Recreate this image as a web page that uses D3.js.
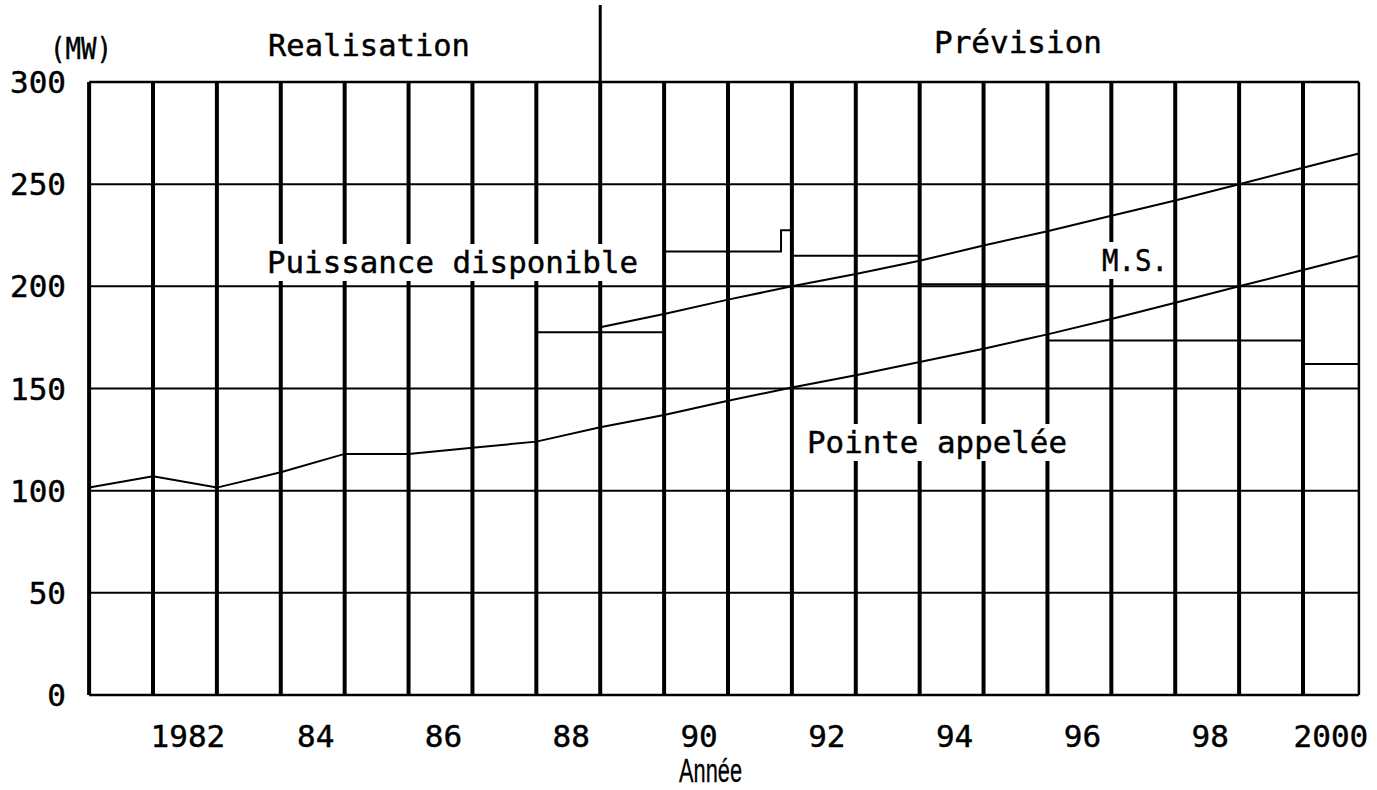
<!DOCTYPE html>
<html>
<head>
<meta charset="utf-8">
<script src="https://cdn.jsdelivr.net/npm/d3@7"></script>
<style>
  html, body { margin: 0; padding: 0; background: #fff; }
  svg { display: block; }
  text { font-family: "DejaVu Sans Mono", "Liberation Mono", monospace; fill: #000; stroke: #000; stroke-width: 0.45px; }
</style>
</head>
<body>
<svg id="chart" width="1377" height="790"></svg>
<script>
// ---------- data ----------
const yTicks = [0, 50, 100, 150, 200, 250, 300];
const yearLines = [1982, 1983, 1984, 1985, 1986, 1987, 1988, 1989, 1990, 1991,
                   1992, 1993, 1994, 1995, 1996, 1997, 1998, 1999, 2000];
const yearTicks = [1982, 1984, 1986, 1988, 1990, 1992, 1994, 1996, 1998, 2000];
const tickLabels = ["1982", "84", "86", "88", "90", "92", "94", "96", "98", "2000"];
const xStart = 1981;
const xEnd = 2000.875;
const splitYear = 1989;

// Pointe appelée (peak demand), at year boundaries
const pointeT = [1981, 1982, 1983, 1984, 1985, 1986, 1987, 1988, 1989, 1990, 1991,
                 1992, 1993, 1994, 1995, 1996, 1997, 1998, 1999, 2000, 2000.875];
const pointeV = [101.5, 107, 101.5, 109, 118, 118, 121, 124, 131, 137, 144,
                 150.5, 156.5, 163, 169.5, 176.5, 184, 192, 200, 208, 215];

// Pointe + M.S. (upper sloped line)
const msT = [1989, 1990, 1991, 1992, 1993, 1994, 1995, 1996, 1997, 1998, 1999, 2000, 2000.875];
const msV = [180, 186.5, 193.5, 200, 206, 212.5, 220, 227, 234.5, 242, 250, 258, 265];

// Puissance disponible (step)
const dispoT = [1988, 1990, 1991.83, 1992, 1994, 1996, 2000, 2000.875];
const dispoV = [177.5, 217, 227.5, 215, 201, 173.5, 162, 162];

// ---------- layout ----------
const svg = d3.select("#chart");
const x = d3.scaleLinear().domain([1982, 2000]).range([153, 1303]);
const y = d3.scaleLinear().domain([0, 300]).range([695, 82]);

const x0 = x(xStart), x1 = x(xEnd);

// horizontal grid lines
svg.append("g").selectAll("line").data(yTicks.filter(d => d > 0 && d < 300)).join("line")
  .attr("x1", x0).attr("x2", x1)
  .attr("y1", d => y(d)).attr("y2", d => y(d))
  .attr("stroke", "#000").attr("stroke-width", 2);

// vertical thick year lines
svg.append("g").selectAll("line").data(yearLines).join("line")
  .attr("x1", d => x(d)).attr("x2", d => x(d))
  .attr("y1", y(0)).attr("y2", y(300))
  .attr("stroke", "#000").attr("stroke-width", 4);

// divider Réalisation / Prévision
svg.append("line")
  .attr("x1", x(splitYear)).attr("x2", x(splitYear))
  .attr("y1", 5).attr("y2", y(300))
  .attr("stroke", "#000").attr("stroke-width", 3);

// frame
svg.append("line").attr("x1", x0).attr("x2", x1).attr("y1", y(300)).attr("y2", y(300))
  .attr("stroke", "#000").attr("stroke-width", 2.5);
svg.append("line").attr("x1", x0).attr("x2", x1).attr("y1", y(0)).attr("y2", y(0))
  .attr("stroke", "#000").attr("stroke-width", 2.5);
svg.append("line").attr("x1", x0).attr("x2", x0).attr("y1", y(0)).attr("y2", y(300))
  .attr("stroke", "#000").attr("stroke-width", 4);
svg.append("line").attr("x1", x1).attr("x2", x1).attr("y1", y(0)).attr("y2", y(300))
  .attr("stroke", "#000").attr("stroke-width", 2.5);

// data lines
const line = d3.line().x(d => x(d[0])).y(d => y(d[1]));
svg.append("path")
  .datum(pointeT.map((t, i) => [t, pointeV[i]]))
  .attr("d", line).attr("fill", "none").attr("stroke", "#000").attr("stroke-width", 2);
svg.append("path")
  .datum(msT.map((t, i) => [t, msV[i]]))
  .attr("d", line).attr("fill", "none").attr("stroke", "#000").attr("stroke-width", 2);
svg.append("path")
  .datum(dispoT.map((t, i) => [t, dispoV[i]]))
  .attr("d", d3.line().curve(d3.curveStepAfter).x(d => x(d[0])).y(d => y(d[1])))
  .attr("fill", "none").attr("stroke", "#000").attr("stroke-width", 2);

// y tick labels
svg.append("g").selectAll("text").data(yTicks).join("text")
  .attr("x", 66).attr("y", d => y(d) + 11)
  .attr("text-anchor", "end")
  .attr("font-size", 31)
  .text(d => d);

// x tick labels
svg.append("g").selectAll("text").data(yearTicks).join("text")
  .attr("x", (d, i) => i === yearTicks.length - 1 ? (x(d) + x1) / 2 : x(d + 0.5) + 3)
  .attr("y", 747)
  .attr("text-anchor", "middle")
  .attr("font-size", 31)
  .text((d, i) => tickLabels[i]);

// annotation labels
function label(txt, lx, ly, w, bg) {
  const g = svg.append("g");
  const t = g.append("text")
    .attr("x", lx).attr("y", ly)
    .attr("font-size", 31)
    .attr("textLength", w).attr("lengthAdjust", "spacingAndGlyphs")
    .text(txt);
  if (bg) {
    const b = t.node().getBBox();
    g.insert("rect", "text")
      .attr("x", b.x - 5).attr("y", ly - 29)
      .attr("width", w + 10).attr("height", 37)
      .attr("fill", "#fff");
  }
}
label("(MW)", 50, 59, 62, false);
label("Realisation", 268, 56, 202, false);
label("Prévision", 934, 53, 168, false);
label("Puissance disponible", 267, 273, 371, true);
label("Pointe appelée", 807, 453, 260, true);
label("M.S.", 1102, 271, 66, true);

svg.append("text")
  .attr("x", 679).attr("y", 782)
  .style("font-family", "'Liberation Sans', Arial, sans-serif")
  .style("stroke-width", "0.3px")
  .attr("font-size", 34)
  .attr("textLength", 63).attr("lengthAdjust", "spacingAndGlyphs")
  .text("Année");
</script>
</body>
</html>
